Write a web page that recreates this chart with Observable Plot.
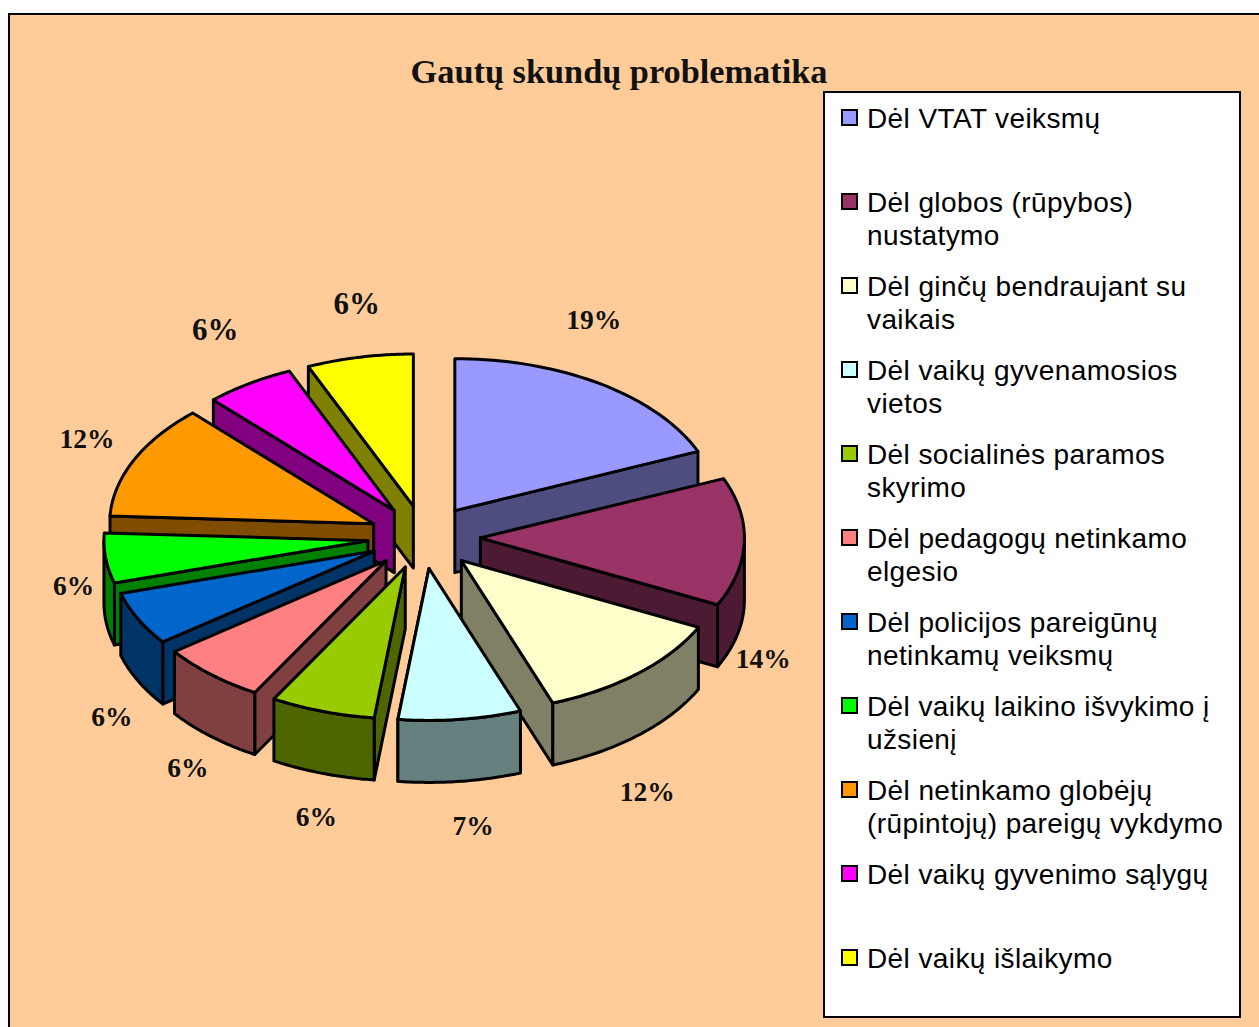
<!DOCTYPE html>
<html lang="lt">
<head>
<meta charset="utf-8">
<script src="https://cdn.jsdelivr.net/npm/d3@7"></script>
<script src="https://cdn.jsdelivr.net/npm/@observablehq/plot@0.6"></script>
<style>
  html, body { margin: 0; padding: 0; background: #fff; }
  #page { position: relative; width: 1259px; height: 1027px; overflow: hidden; }
  #panel { position: absolute; left: 8px; top: 13px; right: 0; bottom: 0; background: #FFCC99;
           border-top: 2px solid #000; border-left: 2px solid #000; }
  #chart { position: absolute; left: 0; top: 0; }
  #title { position: absolute; left: 300px; width: 638px; top: 51px; text-align: center;
           font: bold 34.3px "Liberation Serif", serif; color: #111; line-height: 40px; white-space: nowrap; }
  #legend { position: absolute; left: 823px; top: 91px; width: 414px; height: 923px;
            background: #fff; border: 2px solid #000; }
  .row { position: absolute; left: 16px; white-space: pre-line; font: 28px/33px "Liberation Sans", Arial, sans-serif;
         letter-spacing: 0.4px; color: #000; padding-left: 26px; }
  .sw { position: absolute; left: 0; top: 7px; width: 13px; height: 13px; border: 2px solid #000; }
</style>
</head>
<body>
<div id="page">
  <div id="panel"></div>
  <div id="title">Gautų skundų problematika</div>
  <div id="chart"></div>
  <div id="legend"></div>
</div>
<script>
const categories = [
  "Dėl VTAT veiksmų",
  "Dėl globos (rūpybos)\nnustatymo",
  "Dėl ginčų bendraujant su\nvaikais",
  "Dėl vaikų gyvenamosios\nvietos",
  "Dėl socialinės paramos\nskyrimo",
  "Dėl pedagogų netinkamo\nelgesio",
  "Dėl policijos pareigūnų\nnetinkamų veiksmų",
  "Dėl vaikų laikino išvykimo į\nužsienį",
  "Dėl netinkamo globėjų\n(rūpintojų) pareigų vykdymo",
  "Dėl vaikų gyvenimo sąlygų",
  "Dėl vaikų išlaikymo"
];
const shares = [18.6, 13.6, 12.1, 7.5, 6.4, 6.5, 5.7, 5.3, 12.15, 5.5, 6.5];
const percentLabels = ["19%", "14%", "12%", "7%", "6%", "6%", "6%", "6%", "12%", "6%", "6%"];
const colors = ["#9999FF", "#993366", "#FFFFCC", "#CCFFFF", "#99CC00", "#FF8080", "#0066CC", "#00FF00", "#FF9900", "#FF00FF", "#FFFF00"];

// layout
const explode = 0.208, depth = 0.408;
const shiftX = [-1, 0, -1, -3, -3, -3, -2, -3, -2, -1, -1].map(d => d / 264);
const drawOrder = [10, 9, 8, 7, 6, 5, 4, 0, 1, 2, 3];
const labelDx = [-8, 19, 8, 10, -9, -26, -28, -35, -49, -35, -4];
const labelDy = [-64, 117, 119, 107, 106, 94, 98, 28, -21, -54, -53];
const labelSize = [27.5, 27.5, 27.5, 27.5, 27.5, 27.5, 27.5, 27.5, 27.5, 31, 31];

const total = d3.sum(shares);
const arcs = [];
let acc = 0;
for (const s of shares) { const a0 = acc / total * 2 * Math.PI; acc += s; arcs.push([a0, acc / total * 2 * Math.PI]); }

const dark = c => { const k = d3.rgb(c); return d3.rgb(k.r / 2, k.g / 2, k.b / 2).formatHex(); };

const parts = [];
for (const i of drawOrder) {
  const [a0, a1] = arcs[i];
  const m = (a0 + a1) / 2;
  const ax = explode * Math.sin(m) + shiftX[i], ay = explode * Math.cos(m);
  const rim = t => [ax + Math.sin(t), ay + Math.cos(t)];
  const add = (id, fill, pts) => {
    for (const [x, y] of pts) parts.push({ id: i + id, fill, x, y });
    parts.push({ id: i + id, fill, x: pts[0][0], y: pts[0][1] });
  };
  const samples = (u, v) => d3.range(0, 41).map(k => u + (v - u) * k / 40);
  // outer wall: only the part of the rim that faces the viewer
  const lo = Math.max(a0, Math.PI / 2), hi = Math.min(a1, 3 * Math.PI / 2);
  const wall = dark(colors[i]);
  const side = a => add("-side" + a, wall, [[ax, ay], rim(a), [rim(a)[0], rim(a)[1] - depth], [ax, ay - depth]]);
  if (m < Math.PI) side(a1); else side(a0);
  if (hi > lo) {
    const s = samples(lo, hi).map(rim);
    add("-rim", wall, [...s, ...s.slice().reverse().map(([x, y]) => [x, y - depth])]);
  }
  add("-top", colors[i], [[ax, ay], ...samples(a0, a1).map(rim)]);
}

const labelData = percentLabels.map((text, i) => {
  const m = (arcs[i][0] + arcs[i][1]) / 2;
  return { text, x: (1 + explode) * Math.sin(m), y: (1 + explode) * Math.cos(m), i };
});

const chart = Plot.plot({
  width: 1259,
  height: 1027,
  margin: 0,
  style: { background: "transparent", overflow: "visible" },
  x: { domain: [-1, 1], range: [161, 689], axis: null },
  y: { domain: [-1, 1], range: [688.5, 384.5], axis: null },
  marks: [
    Plot.line(parts, {
      x: "x", y: "y", z: "id", fill: "fill",
      stroke: "#000", strokeWidth: 3, strokeLinejoin: "round", curve: "linear"
    }),
    ...labelData.map(d => Plot.text([d], {
      x: "x", y: "y", text: "text",
      dx: labelDx[d.i], dy: labelDy[d.i],
      fontSize: labelSize[d.i], fontWeight: "bold",
      fontFamily: "Liberation Serif", fill: "#111"
    }))
  ]
});
document.getElementById("chart").append(chart);

const legend = document.getElementById("legend");
categories.forEach((c, i) => {
  const row = document.createElement("div");
  row.className = "row";
  row.style.top = (9 + 84 * i) + "px";
  row.textContent = c;
  const sw = document.createElement("div");
  sw.className = "sw";
  sw.style.background = colors[i];
  row.prepend(sw);
  legend.append(row);
});
</script>
</body>
</html>
